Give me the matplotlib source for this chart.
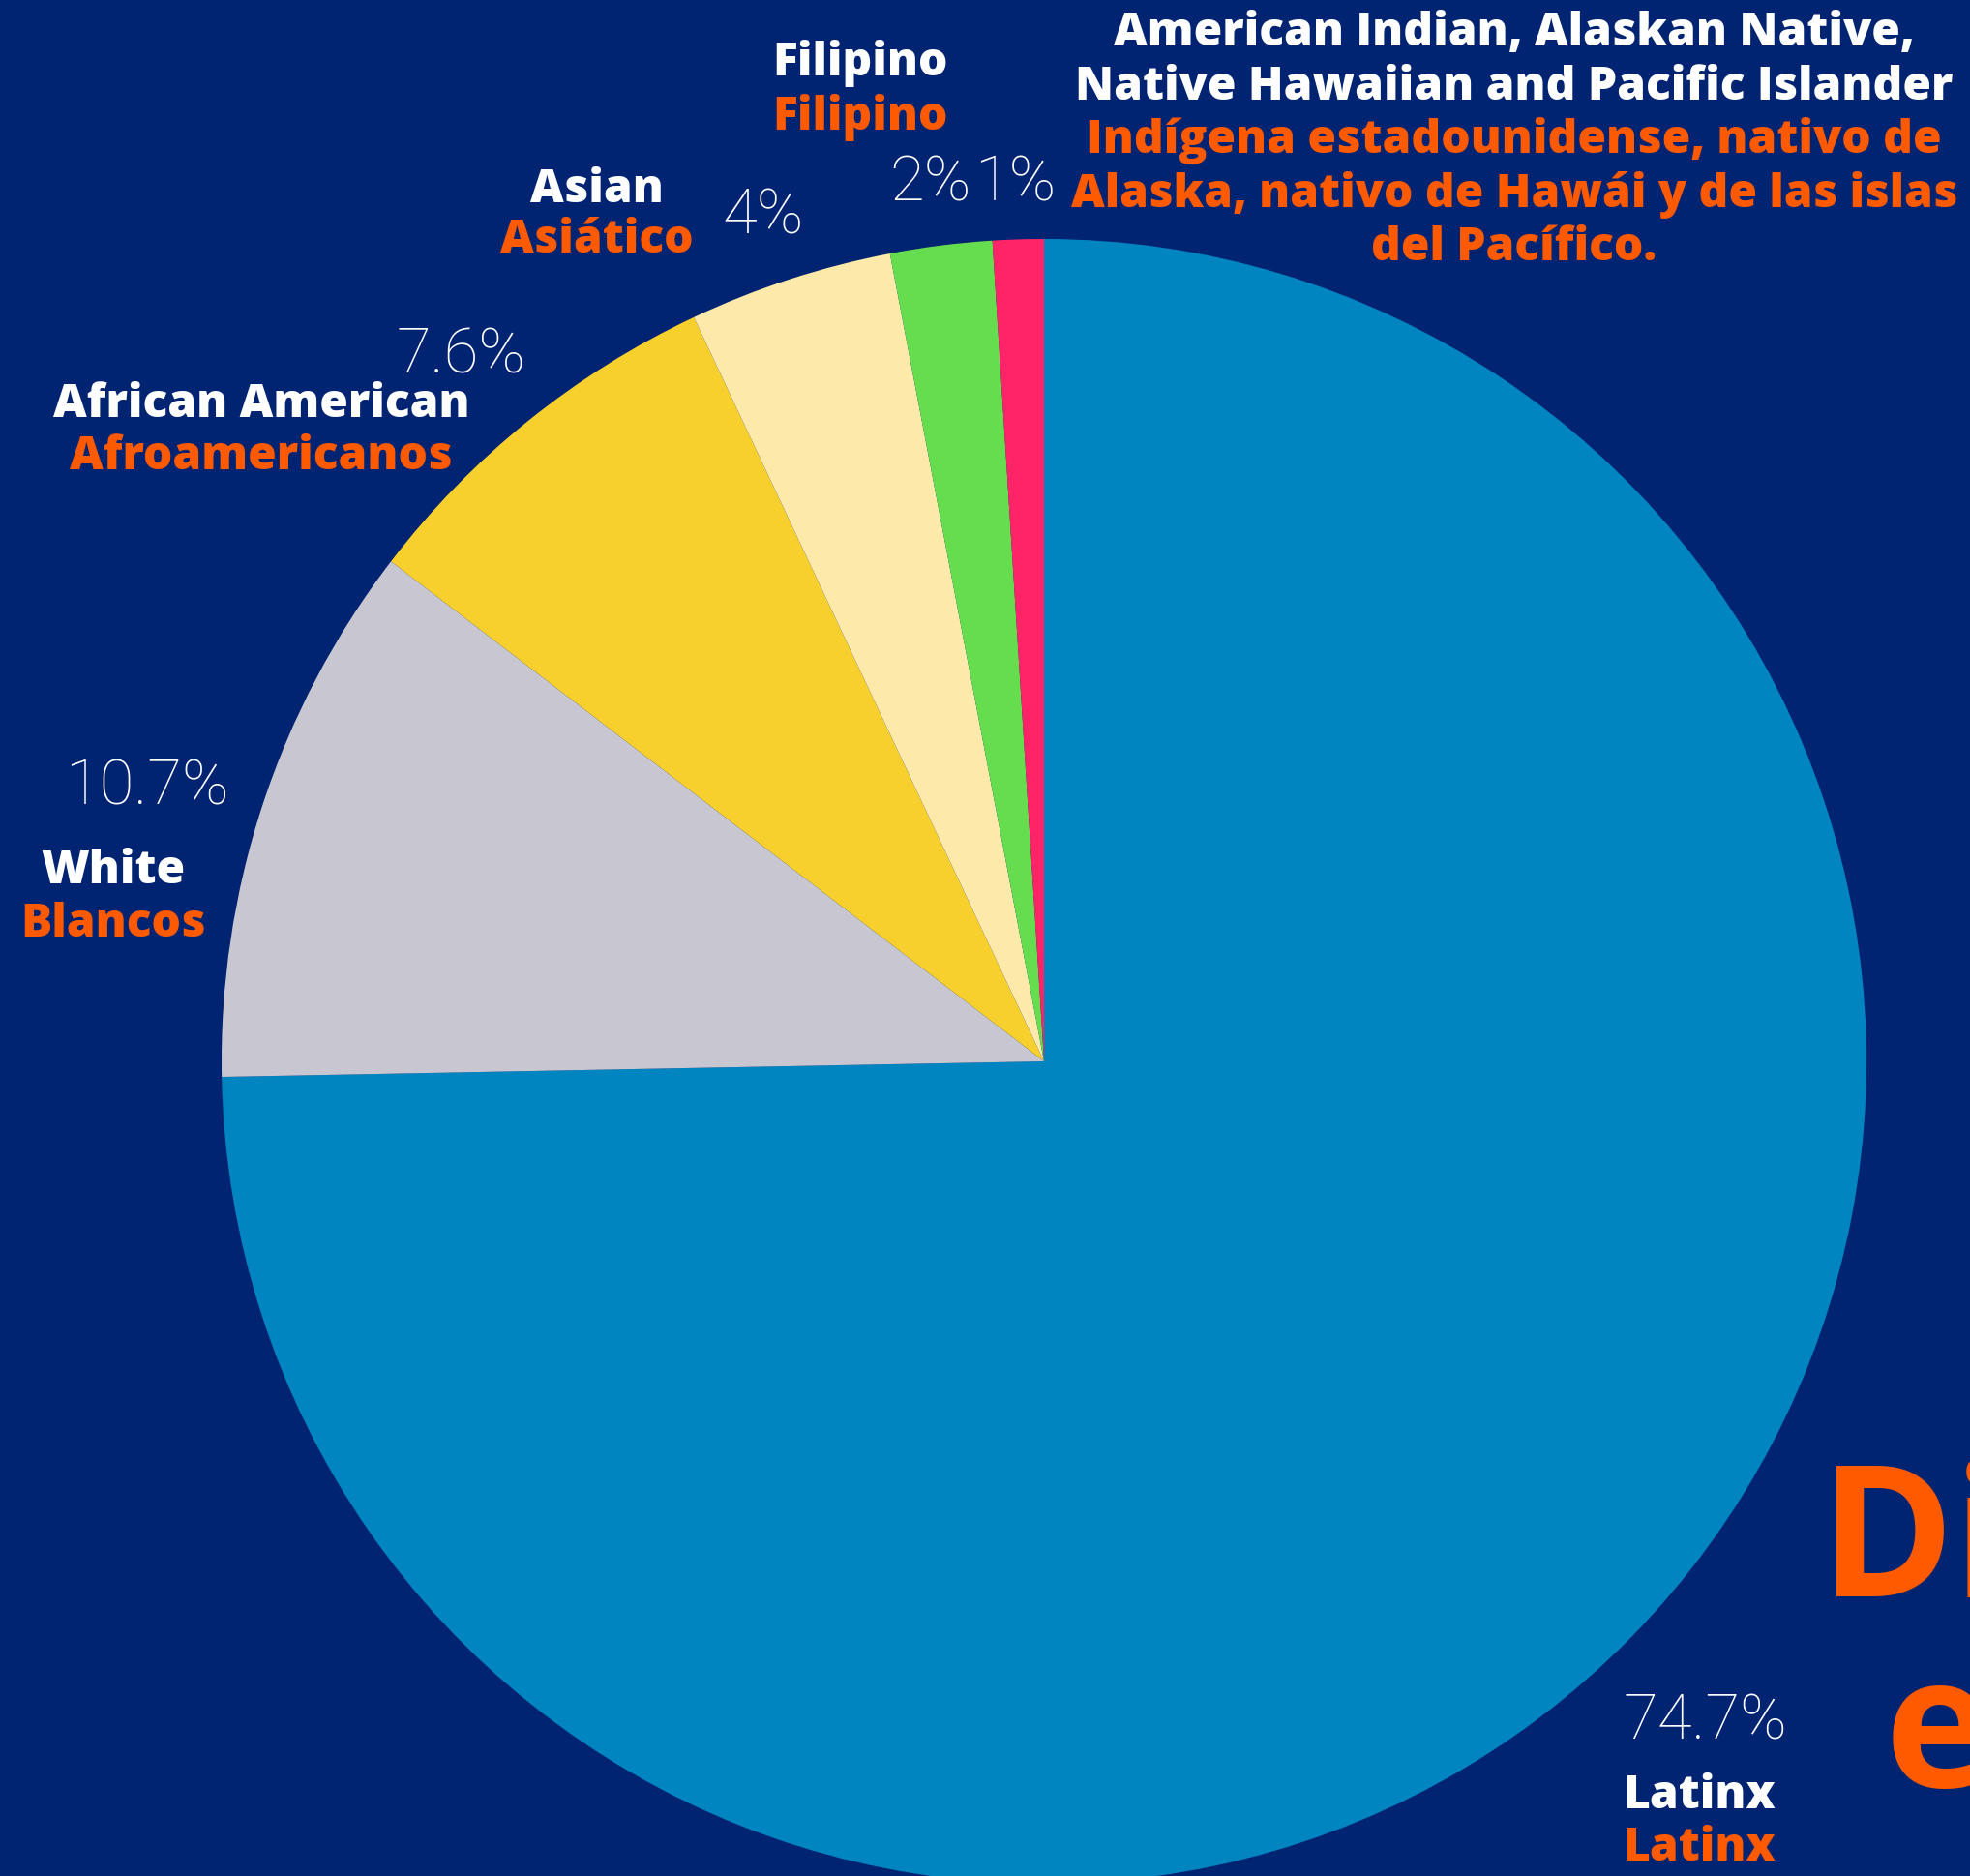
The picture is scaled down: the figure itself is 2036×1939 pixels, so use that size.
import matplotlib
matplotlib.use("Agg")
import matplotlib.pyplot as plt

# --- data ---------------------------------------------------------------
groups_en = ["Latinx", "White", "African American", "Asian", "Filipino",
             "American Indian, Alaskan Native,\nNative Hawaiian and Pacific Islander"]
groups_es = ["Latinx", "Blancos", "Afroamericanos", "Asiático", "Filipino",
             "Indígena estadounidense, nativo de\nAlaska, nativo de Hawái y de las islas\ndel Pacífico."]
shares = [74.7, 10.7, 7.6, 4, 2, 1]
pct_labels = ["74.7%", "10.7%", "7.6%", "4%", "2%", "1%"]
colors = ["#0085C0", "#C8C6D0", "#F8D02E", "#FDE9AA", "#66DD4F", "#FF2468"]

BG = "#002472"
ORANGE = "#FF5A00"
W, H = 2036, 1939

fig = plt.figure(figsize=(W / 100, H / 100), dpi=100, facecolor=BG)
ax = fig.add_axes([0, 0, 1, 1])
ax.set_facecolor(BG)

ax.pie(shares, colors=colors, startangle=90, counterclock=False,
       center=(1079, H - 1097), radius=850, frame=True,
       wedgeprops=dict(linewidth=0))
ax.set_xlim(0, W)
ax.set_ylim(0, H)
ax.set_aspect("equal")
ax.axis("off")

LAB = ["Open Sans", "DejaVu Sans"]
PCT = ["Roboto", "DejaVu Sans"]
lab_kw = dict(ha="center", va="center", fontsize=34.5, fontweight="heavy", family=LAB)

# label layout (pixel coords from top-left): (x, y_en, y_es)
name_pos = [(1756, 1857, 1911), (117, 901, 956), (270, 419, 473),
            (617, 197, 249), (889, 65, 121), (1565, 35, 145)]
line_gap = 56
pct_pos = [(1762, 1780), (152, 813), (477, 367), (789, 223), (961, 190), (1049, 190)]

for (x, y_en, y_es), en, es in zip(name_pos, groups_en, groups_es):
    for j, line in enumerate(en.split("\n")):
        ax.text(x, H - (y_en + line_gap * j), line, color="white", **lab_kw)
    for j, line in enumerate(es.split("\n")):
        ax.text(x, H - (y_es + line_gap * j), line, color=ORANGE, **lab_kw)

for (x, y), p in zip(pct_pos, pct_labels):
    ax.text(x, H - y, p, color="white", ha="center", va="center",
            fontsize=47, fontweight="light", family=PCT)

# cropped title on the right edge (cut off in the source image too)
ax.text(1880, H - 1601, "Di", color=ORANGE, ha="left", va="center",
        fontsize=135, fontweight="bold", family=LAB, clip_on=False)
ax.text(1948, H - 1798, "e", color=ORANGE, ha="left", va="center",
        fontsize=135, fontweight="bold", family=LAB, clip_on=False)

fig.savefig("out.png", dpi=100, facecolor=BG)
